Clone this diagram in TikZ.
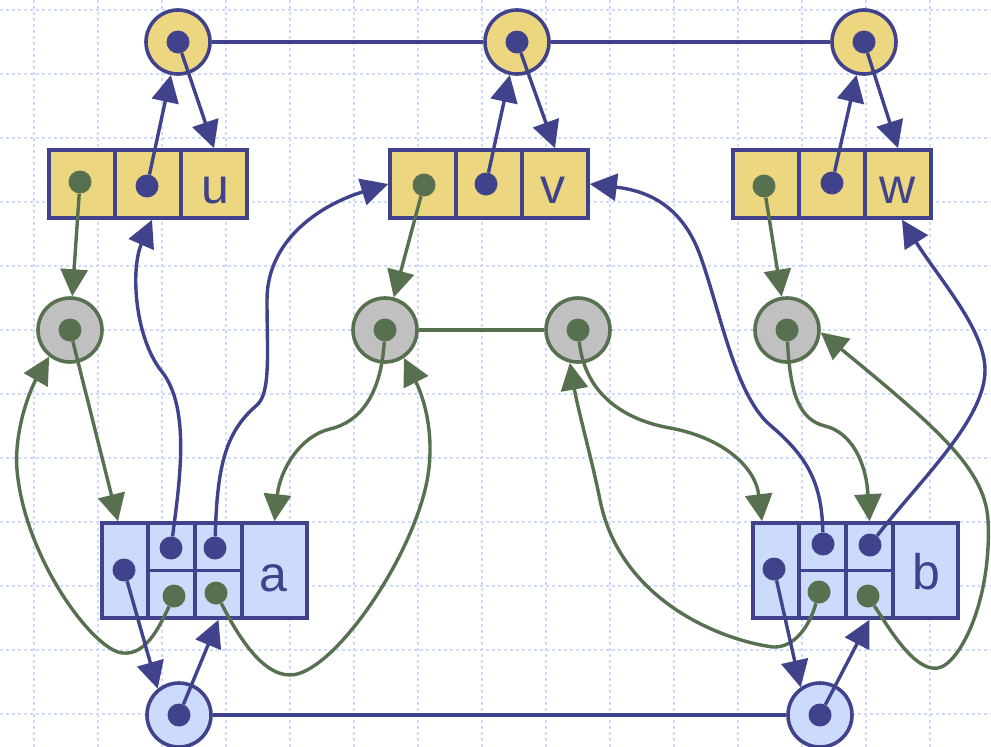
\documentclass[tikz,border=0pt]{standalone}
\usepackage{fontspec}
\newfontfamily\labelfont{Liberation Sans}
\usetikzlibrary{arrows.meta}
\definecolor{lineblue}{RGB}{64,66,140}
\definecolor{nodegreen}{RGB}{87,112,80}
\definecolor{cellyellow}{RGB}{237,214,128}
\definecolor{cellblue}{RGB}{204,219,252}
\definecolor{nodegray}{RGB}{192,192,192}
\definecolor{gridblue}{RGB}{208,218,250}

\begin{document}
\begin{tikzpicture}[x=1pt,y=1pt,yscale=-1,
    gridline/.style={draw=gridblue,line width=1.6pt,dash pattern=on 3pt off 3pt},
    vertex/.style={circle,draw=lineblue,line width=3.6pt,fill=cellyellow,minimum size=64pt,inner sep=0pt},
    edgenode/.style={circle,draw=nodegreen,line width=3.6pt,fill=nodegray,minimum size=64pt,inner sep=0pt},
    endnode/.style={circle,draw=lineblue,line width=3.6pt,fill=cellblue,minimum size=64pt,inner sep=0pt},
    ycell/.style={rectangle,draw=lineblue,line width=3.6pt,fill=cellyellow,minimum width=66pt,minimum height=68pt,inner sep=0pt},
    bcell/.style={rectangle,draw=lineblue,line width=3.6pt,fill=cellblue,minimum width=47pt,minimum height=47.5pt,inner sep=0pt},
    bdot/.style={circle,fill=lineblue,minimum size=23pt,inner sep=0pt},
    gdot/.style={circle,fill=nodegreen,minimum size=23pt,inner sep=0pt},
    bptr/.style={draw=lineblue,line width=3.4pt,-{Triangle[length=27pt,width=27pt]}},
    gptr/.style={draw=nodegreen,line width=3.4pt,-{Triangle[length=27pt,width=27pt]}},
    lbl/.style={anchor=base,inner sep=0pt,text=lineblue,font=\labelfont\fontsize{50}{50}\selectfont},
  ]
    \fill[white] (0,0) rectangle (991,747);
    \useasboundingbox (0,0) rectangle (991,747);

    % grid
    \foreach \gx in {34,98,...,994} \draw[gridline] (\gx,0) -- (\gx,747);
    \foreach \gy in {10,74,...,714} \draw[gridline] (0,\gy) -- (991,\gy);

    %Shape: Circle (vertices)
    \node[vertex] (uc) at (178,42) {};
    \node[vertex] (vc) at (517,42) {};
    \node[vertex] (wc) at (864,42) {};
    \node[bdot] (ucd) at (178,42) {};
    \node[bdot] (vcd) at (517,42) {};
    \node[bdot] (wcd) at (864,42) {};

    %Shape: Rectangle (vertex records)
    \node[ycell] (u1) at (82,184) {};
    \node[ycell] (u2) at (148,184) {};
    \node[ycell] (u3) at (214,184) {};
    \node[ycell] (v1) at (423,184) {};
    \node[ycell] (v2) at (489,184) {};
    \node[ycell] (v3) at (555,184) {};
    \node[ycell] (w1) at (766,184) {};
    \node[ycell] (w2) at (832,184) {};
    \node[ycell] (w3) at (898,184) {};
    \node[gdot] (u1d) at (80,182) {};
    \node[bdot] (u2d) at (147,186) {};
    \node[gdot] (v1d) at (424,185) {};
    \node[bdot] (v2d) at (486,184) {};
    \node[gdot] (w1d) at (764,186) {};
    \node[bdot] (w2d) at (832,183) {};

    %Shape: Circle (edge positions)
    \node[edgenode] (g1) at (70,330) {};
    \node[edgenode] (g2) at (385,330) {};
    \node[edgenode] (g3) at (578,330) {};
    \node[edgenode] (g4) at (787,330) {};
    \node[gdot] (g1d) at (70,330) {};
    \node[gdot] (g2d) at (385,330) {};
    \node[gdot] (g3d) at (578,330) {};
    \node[gdot] (g4d) at (787,330) {};

    %Shape: Circle (end positions)
    \node[endnode] (bl) at (179,715) {};
    \node[endnode] (br) at (820,715) {};
    \node[bdot] (bld) at (179,715) {};
    \node[bdot] (brd) at (820,715) {};

    %Shape: Rectangle (edge record a)
    \node[bcell,minimum width=46pt,minimum height=95pt] (aL) at (125,570.5) {};
    \node[bcell] (aT2) at (171.5,546.75) {};
    \node[bcell] (aB2) at (171.5,594.25) {};
    \node[bcell] (aT3) at (218.5,546.75) {};
    \node[bcell] (aB3) at (218.5,594.25) {};
    \node[bcell,minimum width=65pt,minimum height=95pt] (aLab) at (274.5,570.5) {};
    \node[bdot] (aLd) at (124,570) {};
    \node[bdot] (aT2d) at (171,548) {};
    \node[bdot] (aT3d) at (215,548) {};
    \node[gdot] (aB2d) at (174,596) {};
    \node[gdot] (aB3d) at (216,593) {};

    %Shape: Rectangle (edge record b)
    \node[bcell,minimum width=46pt,minimum height=95pt] (bL) at (776,570.5) {};
    \node[bcell] (bT2) at (822.5,546.75) {};
    \node[bcell] (bB2) at (822.5,594.25) {};
    \node[bcell] (bT3) at (869.5,546.75) {};
    \node[bcell] (bB3) at (869.5,594.25) {};
    \node[bcell,minimum width=65pt,minimum height=95pt] (bLab) at (925.5,570.5) {};
    \node[bdot] (bLd) at (774,569) {};
    \node[bdot] (bT2d) at (823,544) {};
    \node[bdot] (bT3d) at (870,545) {};
    \node[gdot] (bB2d) at (819,592) {};
    \node[gdot] (bB3d) at (868,596) {};

    % Text Node
    \node[lbl] (ul) at (215,203) {u};
    \node[lbl] (vl) at (553,203) {v};
    \node[lbl] (wl) at (898,203) {w};
    \node[lbl] (al) at (273,591) {a};
    \node[lbl] (bll) at (926,589) {b};

    % sequences
    \draw[lineblue,line width=3.4pt] (uc) -- (vc);
    \draw[lineblue,line width=3.4pt] (vc) -- (wc);
    \draw[nodegreen,line width=3.4pt] (g2) -- (g3);
    \draw[lineblue,line width=3.4pt] (bl) -- (br);

    % vertex pointers
    \draw[bptr] (u2d) -- (uc);
    \draw[bptr] (ucd) -- (u3.north);
    \draw[bptr] (v2d) -- (vc);
    \draw[bptr] (vcd) -- (v3.north);
    \draw[bptr] (w2d) -- (wc);
    \draw[bptr] (wcd) -- (w3.north);
    \draw[gptr] (u1d) -- (g1);
    \draw[gptr] (v1d) -- (g2);
    \draw[gptr] (w1d) -- (g4);

    % pointers of a
    \draw[bptr] (aT2d) .. controls (180,480) and (190,410) .. (163,373) .. controls (135,340) and (130,270) .. ([xshift=4pt]u2.south);
    \draw[bptr] (aT3d) .. controls (217,460) and (228,430) .. (257,405) .. controls (271,393) and (267,350) .. (267,300) .. controls (267,240) and (320,205) .. (v1.west);
    \draw[gptr] (aB2d) .. controls (158,630) and (145,655) .. (123,653) .. controls (95,652) and (25,560) .. (17,470) .. controls (14,430) and (30,390) .. (g1.232);
    \draw[gptr] (aB3d) .. controls (235,630) and (260,675) .. (290,675) .. controls (330,675) and (405,570) .. (425,490) .. controls (437,442) and (425,400) .. (g2.-56);
    \draw[bptr] (aLd) -- (bl.129);
    \draw[bptr] (bld) -- (aB3.south);
    \draw[gptr] (g1d) -- ([xshift=-7pt]aL.north);
    \draw[gptr] (g2d) .. controls (381,395) and (360,422) .. (330,429) .. controls (300,436) and (280,470) .. (aLab.north);

    % pointers of b
    \draw[gptr] (g3d) .. controls (585,395) and (625,420) .. (670,428) .. controls (720,437) and (755,465) .. ([xshift=-14pt]bL.north);
    \draw[gptr] (bB2d) .. controls (810,625) and (795,648) .. (773,647) .. controls (720,640) and (620,600) .. (600,500) .. controls (592,460) and (578,410) .. (g3.256);
    \draw[gptr] (bB3d) .. controls (890,630) and (915,672) .. (938,668) .. controls (960,664) and (992,600) .. (988,520) .. controls (985,470) and (940,430) .. (g4.-4);
    \draw[bptr] (bT2d) .. controls (822,480) and (805,455) .. (770,425) .. controls (735,395) and (720,310) .. (700,255) .. controls (680,200) and (640,190) .. (v3.east);
    \draw[bptr] (bT3d) .. controls (920,480) and (985,420) .. (985,370) .. controls (985,330) and (940,280) .. ([xshift=4pt]w3.south);
    \draw[gptr] (g4d) .. controls (790,395) and (800,420) .. (825,426) .. controls (850,432) and (866,460) .. (bT3.north);
    \draw[bptr] (bLd) -- (br.125);
    \draw[bptr] (brd) -- (bB3.south);
\end{tikzpicture}
\end{document}
